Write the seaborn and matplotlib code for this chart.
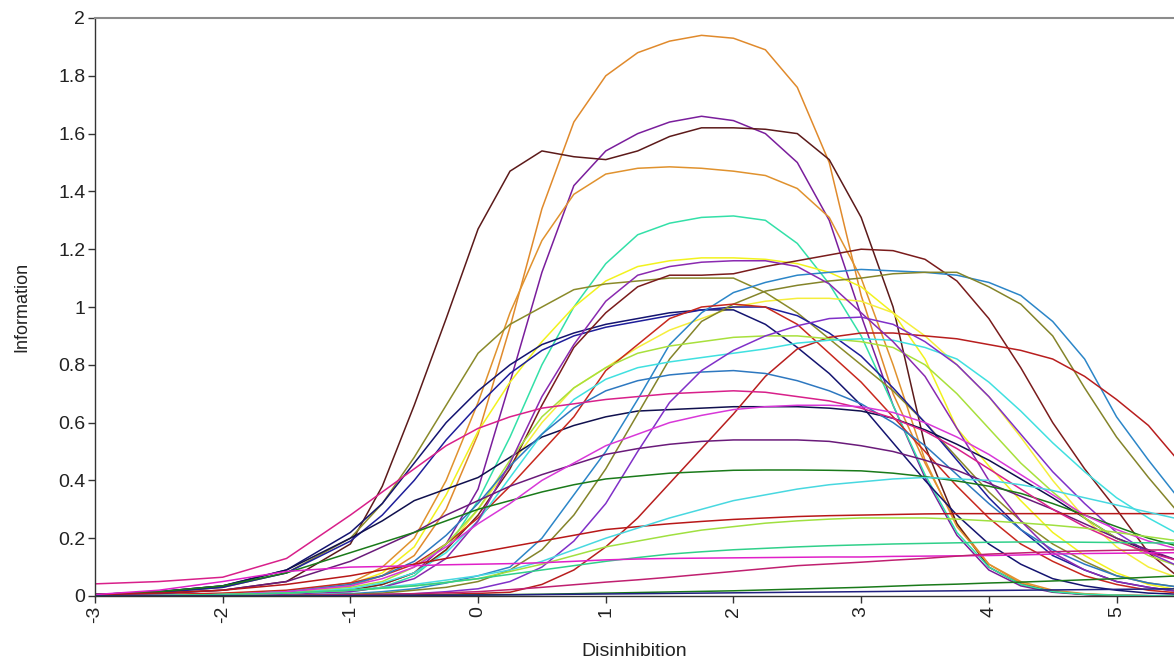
import matplotlib
matplotlib.use("Agg")
import matplotlib.pyplot as plt
import seaborn as sns
import pandas as pd
from matplotlib.ticker import FuncFormatter

# theta grid the curves were read at (finer where the curves bend)
theta = [-3, -2.5, -2, -1.5, -1, -0.75, -0.5, -0.25, 0, 0.25, 0.5, 0.75, 1, 1.25, 1.5, 1.75,
         2, 2.25, 2.5, 2.75, 3, 3.25, 3.5, 3.75, 4, 4.25, 4.5, 4.75, 5, 5.25, 5.5]

# item information values
orange_tall = [0.002, 0.004, 0.008, 0.015, 0.035, 0.07, 0.14, 0.30, 0.56, 0.93, 1.34, 1.64, 1.80, 1.88, 1.92, 1.94,
               1.93, 1.89, 1.76, 1.50, 1.04, 0.70, 0.46, 0.25, 0.11, 0.045, 0.016, 0.006, 0.002, 0.001, 0.0]
purple_top = [0.001, 0.002, 0.004, 0.008, 0.02, 0.04, 0.08, 0.18, 0.37, 0.74, 1.12, 1.42, 1.54, 1.60, 1.64, 1.66,
              1.645, 1.60, 1.50, 1.30, 0.97, 0.66, 0.41, 0.21, 0.09, 0.035, 0.013, 0.005, 0.002, 0.001, 0.0]
maroon_top = [0.005, 0.01, 0.02, 0.05, 0.18, 0.38, 0.66, 0.96, 1.27, 1.47, 1.54, 1.52, 1.51, 1.54, 1.59, 1.62,
              1.62, 1.615, 1.60, 1.51, 1.31, 1.00, 0.52, 0.25, 0.10, 0.04, 0.015, 0.006, 0.002, 0.001, 0.0]
orange_mid = [0.002, 0.004, 0.008, 0.015, 0.045, 0.10, 0.20, 0.40, 0.67, 0.98, 1.23, 1.39, 1.46, 1.48, 1.485, 1.48,
              1.47, 1.455, 1.41, 1.31, 1.10, 0.80, 0.47, 0.24, 0.11, 0.05, 0.02, 0.008, 0.003, 0.001, 0.0]
aquamarine = [0.001, 0.002, 0.004, 0.008, 0.015, 0.03, 0.07, 0.16, 0.33, 0.55, 0.80, 1.00, 1.15, 1.25, 1.29, 1.31,
              1.315, 1.30, 1.22, 1.08, 0.90, 0.66, 0.42, 0.22, 0.10, 0.04, 0.015, 0.006, 0.003, 0.001, 0.0]
yellow_1 = [0.001, 0.003, 0.006, 0.015, 0.04, 0.08, 0.17, 0.35, 0.57, 0.74, 0.88, 1.00, 1.09, 1.14, 1.16, 1.17,
            1.17, 1.165, 1.15, 1.12, 1.07, 0.98, 0.82, 0.58, 0.45, 0.33, 0.22, 0.14, 0.08, 0.04, 0.02]
yellow_2 = [0.0, 0.001, 0.003, 0.008, 0.02, 0.04, 0.08, 0.16, 0.30, 0.45, 0.60, 0.72, 0.79, 0.86, 0.92, 0.96,
            1.00, 1.02, 1.03, 1.03, 1.02, 0.98, 0.90, 0.80, 0.69, 0.55, 0.40, 0.27, 0.17, 0.10, 0.06]
olive_1 = [0.005, 0.012, 0.03, 0.08, 0.20, 0.32, 0.48, 0.66, 0.84, 0.94, 1.00, 1.06, 1.08, 1.09, 1.10, 1.10,
           1.10, 1.05, 0.98, 0.89, 0.80, 0.71, 0.60, 0.48, 0.36, 0.26, 0.18, 0.12, 0.07, 0.045, 0.03]
navy_1 = [0.005, 0.015, 0.035, 0.09, 0.22, 0.32, 0.46, 0.60, 0.71, 0.80, 0.87, 0.91, 0.94, 0.96, 0.98, 0.99,
          0.99, 0.94, 0.86, 0.77, 0.66, 0.53, 0.40, 0.28, 0.18, 0.11, 0.06, 0.035, 0.02, 0.01, 0.006]
navy_2 = [0.005, 0.012, 0.03, 0.08, 0.19, 0.28, 0.40, 0.54, 0.66, 0.77, 0.85, 0.90, 0.93, 0.95, 0.97, 0.99,
          1.00, 1.00, 0.97, 0.91, 0.83, 0.72, 0.60, 0.47, 0.34, 0.23, 0.14, 0.09, 0.05, 0.03, 0.015]
navy_3 = [0.005, 0.015, 0.035, 0.09, 0.20, 0.26, 0.33, 0.37, 0.41, 0.48, 0.55, 0.59, 0.62, 0.64, 0.645, 0.65,
          0.655, 0.655, 0.655, 0.65, 0.64, 0.615, 0.575, 0.525, 0.47, 0.405, 0.34, 0.27, 0.20, 0.155, 0.12]
maroon_2 = [0.0, 0.001, 0.003, 0.008, 0.02, 0.04, 0.08, 0.16, 0.28, 0.44, 0.66, 0.86, 0.98, 1.07, 1.11, 1.11,
            1.115, 1.14, 1.16, 1.18, 1.20, 1.195, 1.165, 1.09, 0.96, 0.79, 0.60, 0.44, 0.30, 0.15, 0.06]
steel_1 = [0.0, 0.0, 0.001, 0.003, 0.008, 0.015, 0.025, 0.045, 0.07, 0.10, 0.20, 0.35, 0.50, 0.68, 0.87, 0.98,
           1.05, 1.085, 1.11, 1.12, 1.13, 1.125, 1.12, 1.11, 1.085, 1.04, 0.95, 0.82, 0.62, 0.47, 0.33]
olive_2 = [0.0, 0.0, 0.001, 0.002, 0.006, 0.01, 0.02, 0.03, 0.05, 0.09, 0.16, 0.28, 0.44, 0.63, 0.82, 0.95,
           1.01, 1.055, 1.075, 1.09, 1.10, 1.115, 1.12, 1.12, 1.07, 1.01, 0.90, 0.72, 0.55, 0.41, 0.28]
red_1 = [0.002, 0.005, 0.01, 0.02, 0.045, 0.07, 0.11, 0.18, 0.27, 0.38, 0.50, 0.62, 0.78, 0.87, 0.96, 1.00,
         1.01, 1.00, 0.94, 0.84, 0.74, 0.62, 0.50, 0.38, 0.27, 0.18, 0.12, 0.07, 0.04, 0.02, 0.01]
red_2 = [0.0, 0.0, 0.0, 0.001, 0.002, 0.003, 0.004, 0.006, 0.009, 0.013, 0.04, 0.09, 0.17, 0.27, 0.39, 0.51,
         0.63, 0.76, 0.855, 0.895, 0.91, 0.91, 0.90, 0.89, 0.87, 0.85, 0.82, 0.76, 0.68, 0.59, 0.46]
yellowgreen_1 = [0.0, 0.001, 0.005, 0.012, 0.03, 0.05, 0.10, 0.18, 0.30, 0.47, 0.62, 0.72, 0.79, 0.84, 0.865, 0.88,
                 0.895, 0.90, 0.90, 0.89, 0.88, 0.86, 0.80, 0.70, 0.58, 0.46, 0.36, 0.27, 0.20, 0.14, 0.10]
cyan_1 = [0.0, 0.001, 0.004, 0.01, 0.025, 0.045, 0.08, 0.15, 0.26, 0.41, 0.56, 0.68, 0.75, 0.79, 0.81, 0.825,
          0.84, 0.855, 0.875, 0.885, 0.89, 0.885, 0.86, 0.82, 0.74, 0.64, 0.53, 0.43, 0.34, 0.27, 0.21]
blue_2 = [0.0, 0.002, 0.005, 0.015, 0.04, 0.07, 0.12, 0.21, 0.32, 0.45, 0.56, 0.65, 0.71, 0.745, 0.765, 0.775,
          0.78, 0.77, 0.745, 0.71, 0.665, 0.60, 0.52, 0.42, 0.32, 0.23, 0.16, 0.11, 0.07, 0.045, 0.03]
violet_1 = [0.0, 0.0, 0.0, 0.001, 0.003, 0.005, 0.008, 0.015, 0.025, 0.05, 0.10, 0.19, 0.32, 0.50, 0.67, 0.78,
            0.85, 0.90, 0.935, 0.96, 0.965, 0.94, 0.88, 0.80, 0.69, 0.56, 0.43, 0.32, 0.22, 0.15, 0.10]
purple_2 = [0.0, 0.001, 0.003, 0.007, 0.015, 0.03, 0.06, 0.13, 0.26, 0.46, 0.69, 0.87, 1.02, 1.11, 1.14, 1.155,
            1.16, 1.16, 1.14, 1.08, 0.98, 0.88, 0.76, 0.58, 0.40, 0.26, 0.15, 0.09, 0.05, 0.03, 0.015]
darkpurple = [0.003, 0.008, 0.02, 0.05, 0.12, 0.17, 0.22, 0.28, 0.33, 0.38, 0.42, 0.455, 0.49, 0.51, 0.525, 0.535,
              0.54, 0.54, 0.54, 0.535, 0.52, 0.50, 0.47, 0.435, 0.39, 0.345, 0.30, 0.25, 0.20, 0.16, 0.12]
darkgreen_1 = [0.005, 0.015, 0.035, 0.08, 0.15, 0.185, 0.22, 0.26, 0.30, 0.33, 0.36, 0.385, 0.405, 0.415, 0.425, 0.43,
               0.435, 0.436, 0.436, 0.435, 0.433, 0.425, 0.413, 0.398, 0.38, 0.355, 0.32, 0.28, 0.24, 0.20, 0.17]
pink_1 = [0.042, 0.05, 0.065, 0.13, 0.28, 0.36, 0.44, 0.52, 0.58, 0.62, 0.65, 0.665, 0.68, 0.69, 0.70, 0.705,
          0.71, 0.705, 0.69, 0.675, 0.65, 0.615, 0.57, 0.51, 0.44, 0.37, 0.30, 0.24, 0.19, 0.15, 0.12]
magenta_2 = [0.0, 0.002, 0.005, 0.015, 0.035, 0.06, 0.10, 0.17, 0.25, 0.32, 0.40, 0.46, 0.52, 0.56, 0.60, 0.625,
             0.645, 0.655, 0.66, 0.66, 0.655, 0.635, 0.60, 0.55, 0.49, 0.42, 0.35, 0.28, 0.23, 0.19, 0.16]
red_flat = [0.005, 0.01, 0.02, 0.04, 0.07, 0.09, 0.11, 0.13, 0.15, 0.17, 0.19, 0.21, 0.23, 0.24, 0.25, 0.258,
            0.265, 0.27, 0.275, 0.278, 0.28, 0.282, 0.284, 0.285, 0.285, 0.285, 0.285, 0.285, 0.285, 0.285, 0.285]
cyan_low = [0.0, 0.001, 0.005, 0.01, 0.02, 0.03, 0.04, 0.055, 0.07, 0.09, 0.12, 0.16, 0.20, 0.235, 0.27, 0.30,
            0.33, 0.35, 0.37, 0.385, 0.395, 0.405, 0.41, 0.405, 0.40, 0.385, 0.365, 0.34, 0.315, 0.29, 0.265]
yellowgreen_low = [0.0, 0.001, 0.005, 0.01, 0.02, 0.027, 0.035, 0.047, 0.06, 0.085, 0.11, 0.14, 0.17, 0.19, 0.21, 0.228,
                   0.24, 0.252, 0.26, 0.266, 0.27, 0.27, 0.27, 0.266, 0.26, 0.253, 0.245, 0.235, 0.22, 0.205, 0.19]
seagreen_low = [0.0, 0.002, 0.005, 0.01, 0.02, 0.027, 0.035, 0.047, 0.06, 0.075, 0.09, 0.105, 0.12, 0.133, 0.145, 0.153,
                0.16, 0.165, 0.17, 0.174, 0.177, 0.18, 0.182, 0.184, 0.186, 0.187, 0.187, 0.186, 0.185, 0.184, 0.183]
magenta_flat = [0.005, 0.02, 0.05, 0.085, 0.10, 0.102, 0.105, 0.108, 0.11, 0.112, 0.115, 0.12, 0.125, 0.128, 0.13, 0.131,
                0.132, 0.133, 0.134, 0.135, 0.135, 0.137, 0.138, 0.139, 0.14, 0.142, 0.145, 0.147, 0.148, 0.149, 0.15]
crimson_low = [0.0, 0.0, 0.001, 0.002, 0.004, 0.006, 0.008, 0.011, 0.015, 0.022, 0.03, 0.039, 0.048, 0.056, 0.065, 0.075,
               0.085, 0.095, 0.105, 0.111, 0.117, 0.124, 0.13, 0.138, 0.145, 0.149, 0.153, 0.156, 0.158, 0.159, 0.16]
green_bottom = [0.0, 0.0, 0.0, 0.001, 0.001, 0.0015, 0.002, 0.003, 0.004, 0.005, 0.006, 0.008, 0.01, 0.012, 0.014, 0.016,
                0.018, 0.021, 0.024, 0.027, 0.03, 0.034, 0.038, 0.041, 0.045, 0.048, 0.052, 0.056, 0.06, 0.065, 0.07]
navy_bottom = [0.0, 0.0, 0.0, 0.0, 0.001, 0.0015, 0.002, 0.0025, 0.003, 0.004, 0.005, 0.006, 0.007, 0.008, 0.009, 0.01,
               0.011, 0.012, 0.013, 0.014, 0.015, 0.016, 0.017, 0.018, 0.019, 0.02, 0.021, 0.022, 0.023, 0.024, 0.025]

curves = {
    "orange_tall": (orange_tall, "#E08A2C"),
    "purple_top": (purple_top, "#7A1E9C"),
    "maroon_top": (maroon_top, "#5C1A1A"),
    "orange_mid": (orange_mid, "#E0922E"),
    "aquamarine": (aquamarine, "#33E0A8"),
    "yellow_1": (yellow_1, "#F2F21E"),
    "yellow_2": (yellow_2, "#F5EE3C"),
    "olive_1": (olive_1, "#8A8A2A"),
    "navy_1": (navy_1, "#141470"),
    "navy_2": (navy_2, "#1E1E9A"),
    "navy_3": (navy_3, "#10104E"),
    "maroon_2": (maroon_2, "#7A1C1C"),
    "steel_1": (steel_1, "#2C86C8"),
    "olive_2": (olive_2, "#84842A"),
    "red_1": (red_1, "#C8281E"),
    "red_2": (red_2, "#B81E1E"),
    "yellowgreen_1": (yellowgreen_1, "#A8E03C"),
    "cyan_1": (cyan_1, "#40E0E0"),
    "blue_2": (blue_2, "#2E78C0"),
    "violet_1": (violet_1, "#8030C8"),
    "purple_2": (purple_2, "#8A2AB0"),
    "darkpurple": (darkpurple, "#6A1B7A"),
    "darkgreen_1": (darkgreen_1, "#1A7A1A"),
    "pink_1": (pink_1, "#D8208A"),
    "magenta_2": (magenta_2, "#D838D8"),
    "red_flat": (red_flat, "#B81818"),
    "cyan_low": (cyan_low, "#48D8E0"),
    "yellowgreen_low": (yellowgreen_low, "#A0E040"),
    "seagreen_low": (seagreen_low, "#30D08A"),
    "magenta_flat": (magenta_flat, "#E020C8"),
    "crimson_low": (crimson_low, "#C02070"),
    "green_bottom": (green_bottom, "#1A7A1A"),
    "navy_bottom": (navy_bottom, "#202080"),
}

rows = []
for name, (vals, _) in curves.items():
    for t, v in zip(theta, vals):
        rows.append({"item": name, "theta": t, "info": v})
df = pd.DataFrame(rows)
palette = {name: col for name, (_, col) in curves.items()}

sns.set_style("white")
plt.rcParams["font.family"] = ["Liberation Sans", "DejaVu Sans"]

fig = plt.figure(figsize=(11.74, 6.66), dpi=100)
ax = fig.add_axes([95 / 1174, 70 / 666, 1 - 95 / 1174, 578 / 666])

sns.lineplot(data=df, x="theta", y="info", hue="item", palette=palette,
             legend=False, linewidth=1.1, ax=ax, estimator=None)

ax.set_xlim(-3, 5.45)
ax.set_ylim(0, 2)
ax.set_xticks(range(-3, 6))
ax.set_yticks([i * 0.2 for i in range(11)])
ax.yaxis.set_major_formatter(FuncFormatter(lambda v, p: f"{v:g}"))
ax.xaxis.set_major_formatter(FuncFormatter(lambda v, p: f"{v:g}"))
plt.setp(ax.get_xticklabels(), rotation=90)
ax.tick_params(axis="both", labelsize=14, length=5, width=1, direction="out",
               color="#333333", labelcolor="#222222", left=True, bottom=True, pad=2)

ax.set_xlabel("Disinhibition", fontsize=14, labelpad=14, color="#222222")
ax.set_ylabel("Information", fontsize=13, labelpad=20, color="#222222")

for side in ["left", "bottom"]:
    ax.spines[side].set_color("#333333")
    ax.spines[side].set_linewidth(1)
ax.spines["top"].set_color("#8C8C8C")
ax.spines["top"].set_linewidth(1.5)
ax.spines["right"].set_visible(False)

fig.savefig("out.png", dpi=100)
